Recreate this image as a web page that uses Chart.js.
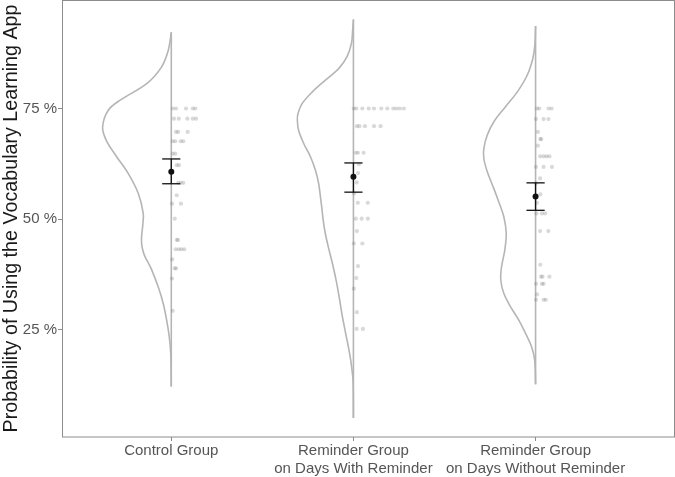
<!DOCTYPE html>
<html>
<head>
<meta charset="utf-8">
<script src="https://cdn.jsdelivr.net/npm/chart.js@4.4.1/dist/chart.umd.min.js"></script>
<style>
  html, body { margin: 0; padding: 0; background: #ffffff; }
  #wrap { width: 675px; height: 477px; }
</style>
</head>
<body>
<div id="wrap"><canvas id="c" width="675" height="477"></canvas></div>
<script>
// ---------- DATA ----------
const categories = [
  ['Control Group'],
  ['Reminder Group', 'on Days With Reminder'],
  ['Reminder Group', 'on Days Without Reminder']
];
const yTickValues = [25, 50, 75];
const yAxisTitle = 'Probability of Using the Vocabulary Learning App';

// half-violin outlines: probability (%) and density half-width (category units)
const ctrlViolinY = [92.2, 88.2, 84.4, 80.6, 76.9, 74.6, 70.8, 67.8, 64.1, 60.3, 55.8, 51.3, 48.9, 46.1, 44.6, 43.1, 41.6, 40.1, 38.6, 34.6, 30.9, 27.1, 23.4, 19.6, 12.2];
const ctrlViolinW = [0, 0.016, 0.053, 0.135, 0.28, 0.346, 0.377, 0.357, 0.30, 0.236, 0.181, 0.154, 0.156, 0.163, 0.163, 0.157, 0.145, 0.126, 0.108, 0.071, 0.044, 0.025, 0.011, 0.003, 0];

const withViolinY = [95.1, 92.7, 89.7, 86.7, 84.0, 81.4, 78.7, 76.1, 73.9, 72.4, 70.1, 67.1, 64.1, 61.1, 58.1, 55.0, 52.0, 49.8, 47.1, 43.4, 39.6, 35.8, 32.1, 28.3, 24.5, 20.8, 17.0, 13.3, 5.1];
const withViolinW = [0, 0.004, 0.011, 0.035, 0.081, 0.154, 0.227, 0.282, 0.304, 0.308, 0.301, 0.273, 0.236, 0.209, 0.191, 0.181, 0.172, 0.166, 0.156, 0.136, 0.113, 0.093, 0.077, 0.062, 0.044, 0.026, 0.011, 0.002, 0];

const woutViolinY = [93.6, 89.3, 86.3, 82.5, 78.7, 75.4, 72.0, 69.0, 66.0, 63.7, 60.7, 56.9, 53.9, 50.5, 46.8, 43.0, 39.2, 36.2, 33.2, 30.2, 27.2, 24.2, 21.2, 18.2, 12.7];
const woutViolinW = [0, 0.004, 0.015, 0.046, 0.101, 0.165, 0.229, 0.265, 0.284, 0.284, 0.265, 0.229, 0.202, 0.174, 0.161, 0.169, 0.187, 0.191, 0.174, 0.137, 0.092, 0.055, 0.022, 0.005, 0];

// individual observations: probability (%) and horizontal jitter (category units)
const ctrlDotY = [75,75,75,75,75, 72.7,72.7,72.7,72.7,72.7, 69.7,69.7,69.7, 67.6,67.6,67.6,67.6, 64.8,64.8, 62.2,62.2, 58.2,58.2,58.2, 55.4, 53.5,53.5, 50.1, 45.3,45.3, 43.2,43.2,43.2,43.2, 40.9, 38.9,38.9, 36.6, 29.3];
const ctrlDotJ = [0.008,0.026,0.081,0.118,0.132, 0.015,0.041,0.088,0.118,0.136, 0.026,0.038,0.09, 0.008,0.022,0.052,0.066, 0.008,0.022, 0.03,0.042, 0.038,0.052,0.066, 0.03, 0.004,0.053, 0.019, 0.03,0.037, 0.024,0.041,0.055,0.071, 0.005, 0.019,0.026, 0.004, 0.008];

const withDotY = [75,75,75,75,75,75,75,75,75,75,75, 71.0,71.0,71.0,71.0,71.0, 65.0,65.0,65.0, 62.4, 60.4, 58.3, 55.8, 53.7,53.7, 50.1,50.1,50.1, 47.3, 44.5,44.5, 39.4, 36.7, 34.3, 29.0, 25.2,25.2];
const withDotJ = [0.002,0.016,0.049,0.084,0.113,0.153,0.186,0.219,0.236,0.255,0.277, 0.019,0.033,0.063,0.113,0.149, 0.013,0.025,0.056, 0.03, 0.025, 0.018, 0.004, 0.024,0.079, 0.013,0.045,0.079, 0.019, 0.002,0.049, 0.025, 0.016, 0.002, 0.019, 0.018,0.052];

const woutDotY = [75,75,75,75, 72.6,72.6,72.6, 69.7, 68.1,68.1, 66.6, 64.2,64.2,64.2,64.2, 61.8,61.8,61.8, 59.2, 58.1, 55.6, 53.7, 51.3,51.3,51.3, 47.3,47.3, 39.7, 37.0,37.0,37.0, 35.4,35.4,35.4, 33.0, 31.8,31.8,31.8];
const woutDotJ = [0.008,0.02,0.071,0.088, 0.002,0.044,0.071, 0.013, 0.026,0.031, 0.013, 0.025,0.044,0.06,0.076, 0.002,0.044,0.09, 0.025, 0.002, 0.026, 0.007, 0.004,0.035,0.053, 0.025,0.07, 0.026, 0.03,0.038,0.076, 0.002,0.035,0.044, 0.008, 0.002,0.044,0.056];

// group means with error bar limits (%)
const means  = [60.7, 59.6, 55.1];
const ciLow  = [58.0, 56.1, 52.0];
const ciHigh = [63.6, 62.7, 58.2];

// ---------- BUILD ----------
const violinsY = [ctrlViolinY, withViolinY, woutViolinY];
const violinsW = [ctrlViolinW, withViolinW, woutViolinW];
const dotsY = [ctrlDotY, withDotY, woutDotY];
const dotsJ = [ctrlDotJ, withDotJ, woutDotJ];

const LINE_GREY = '#b5b5b5';
const CAP = 0.05;
const datasets = [];

for (let g = 0; g < 3; g++) {
  const xc = g + 1;
  const vy = violinsY[g], vw = violinsW[g];
  // curved side
  datasets.push({
    type: 'scatter', showLine: true, order: 5,
    data: vy.map((v, i) => ({ x: xc - vw[i], y: v })),
    borderColor: LINE_GREY, borderWidth: 1.6, pointRadius: 0, tension: 0.35, fill: false
  });
  // flat side
  datasets.push({
    type: 'scatter', showLine: true, order: 5,
    data: [{ x: xc, y: vy[0] }, { x: xc, y: vy[vy.length - 1] }],
    borderColor: LINE_GREY, borderWidth: 1.6, pointRadius: 0, tension: 0, fill: false
  });
  // observations
  datasets.push({
    type: 'scatter', order: 4,
    data: dotsY[g].map((v, i) => ({ x: xc + dotsJ[g][i], y: v })),
    backgroundColor: 'rgba(120,120,120,0.28)', borderWidth: 0, pointRadius: 2.1
  });
  // error bar
  const segs = [
    [{ x: xc - CAP, y: ciHigh[g] }, { x: xc + CAP, y: ciHigh[g] }],
    [{ x: xc, y: ciHigh[g] }, { x: xc, y: ciLow[g] }],
    [{ x: xc - CAP, y: ciLow[g] }, { x: xc + CAP, y: ciLow[g] }]
  ];
  segs.forEach(s => datasets.push({
    type: 'scatter', showLine: true, order: 2, data: s,
    borderColor: '#111111', borderWidth: 1.3, pointRadius: 0, tension: 0
  }));
  // mean
  datasets.push({
    type: 'scatter', order: 1,
    data: [{ x: xc, y: means[g] }],
    backgroundColor: '#111111', borderWidth: 0, pointRadius: 3
  });
}

const panelBorder = {
  id: 'panelBorder',
  afterDraw(chart) {
    const { ctx, chartArea: a } = chart;
    ctx.save();
    ctx.strokeStyle = '#8c8c8c';
    ctx.lineWidth = 1;
    ctx.strokeRect(a.left + 0.5, a.top + 0.5, a.right - a.left, a.bottom - a.top - 0.5);
    ctx.restore();
  }
};

new Chart(document.getElementById('c'), {
  type: 'scatter',
  data: { datasets },
  options: {
    responsive: false,
    animation: false,
    devicePixelRatio: 1,
    layout: { autoPadding: false, padding: { top: 0, right: 1, left: 0, bottom: 0 } },
    plugins: { legend: { display: false }, tooltip: { enabled: false } },
    scales: {
      x: {
        type: 'linear', min: 0.4, max: 3.76,
        afterBuildTicks: s => { s.ticks = categories.map((c, i) => ({ value: i + 1 })); },
        afterFit: s => { s.height = 40; s.paddingLeft = 0; s.paddingRight = 0; },
        grid: { drawOnChartArea: false, drawTicks: true, tickLength: 4, color: '#8c8c8c' },
        border: { display: false },
        ticks: {
          autoSkip: false, maxRotation: 0, padding: 1,
          color: '#555555',
          font: { family: '"Liberation Sans", Arial, sans-serif', size: 15 },
          callback: (v) => categories[Math.round(v) - 1] || ''
        }
      },
      y: {
        type: 'linear', min: 0.8, max: 99.5,
        afterBuildTicks: s => { s.ticks = yTickValues.map(v => ({ value: v })); },
        afterFit: s => { s.width = 62; s.paddingTop = 0; s.paddingBottom = 0; },
        grid: { drawOnChartArea: false, drawTicks: true, tickLength: 4, color: '#8c8c8c' },
        border: { display: false },
        ticks: {
          padding: 1, color: '#555555',
          font: { family: '"Liberation Sans", Arial, sans-serif', size: 15 },
          callback: v => v + ' %'
        },
        title: {
          display: true, text: yAxisTitle, color: '#1a1a1a',
          padding: { top: 0, bottom: 0 },
          font: { family: '"Liberation Sans", Arial, sans-serif', size: 19.7 }
        }
      }
    }
  },
  plugins: [panelBorder]
});
</script>
</body>
</html>
